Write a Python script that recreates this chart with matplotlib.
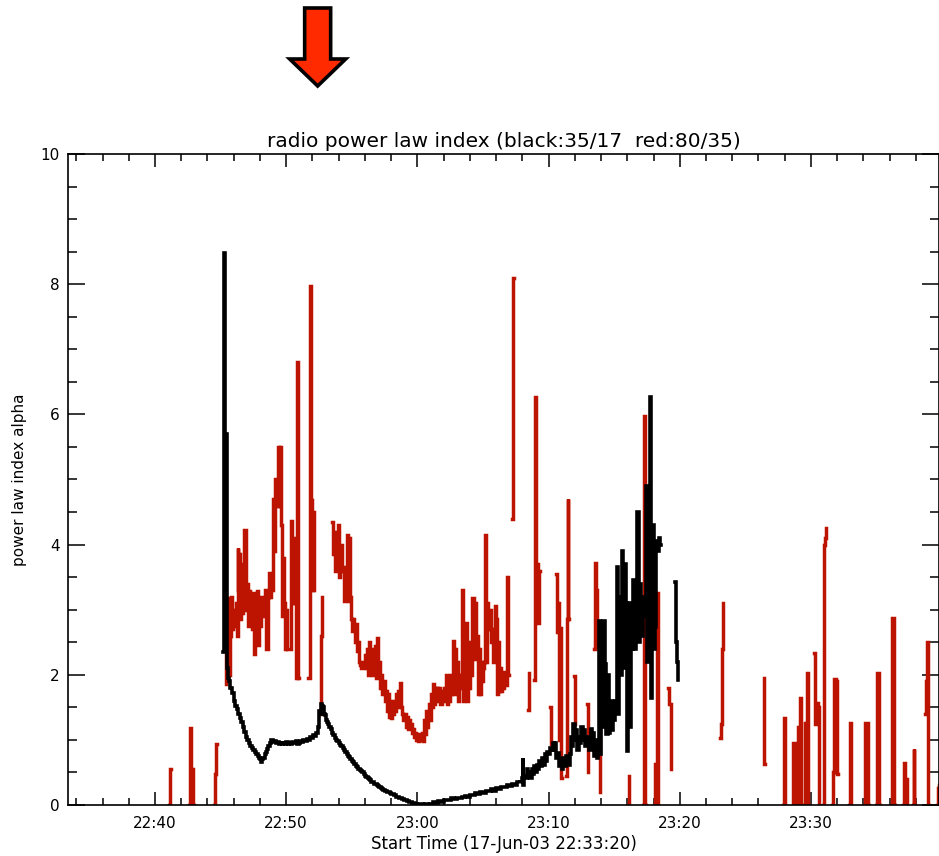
import numpy as np
import matplotlib
matplotlib.use("Agg")
import matplotlib.pyplot as plt
from matplotlib.patches import Polygon
from matplotlib.transforms import IdentityTransform
from matplotlib.ticker import MultipleLocator, FuncFormatter

nan = np.nan

# time in minutes after 22:00 UT, value = power law index alpha
black_pts = [
    (45.20, 2.35), (45.25, 8.48), (45.32, 2.40), (45.40, 5.70), (45.50, 2.10), (45.58, 1.95),
    (45.65, 1.90), (45.75, 1.80), (45.88, 1.72), (46.00, 1.60), (46.11, 1.52), (46.22, 1.47),
    (46.34, 1.40), (46.45, 1.33), (46.56, 1.27), (46.68, 1.20), (46.79, 1.12), (46.90, 1.05),
    (47.02, 1.00), (47.14, 0.95), (47.25, 0.90), (47.36, 0.88), (47.48, 0.84), (47.60, 0.82),
    (47.71, 0.78), (47.82, 0.76), (47.94, 0.72), (48.02, 0.70), (48.09, 0.66), (48.16, 0.70),
    (48.24, 0.72), (48.35, 0.78), (48.47, 0.82), (48.55, 0.86), (48.63, 0.90), (48.74, 0.95),
    (48.85, 1.00), (48.96, 0.97), (49.08, 0.99), (49.20, 0.96), (49.31, 0.97), (49.42, 0.94),
    (49.54, 0.96), (49.66, 0.93), (49.77, 0.96), (49.88, 0.94), (50.00, 0.97), (50.12, 0.93),
    (50.24, 0.96), (50.36, 0.94), (50.48, 0.97), (50.60, 0.95), (50.72, 0.98), (50.84, 0.94),
    (50.96, 0.96), (51.08, 0.99), (51.20, 0.97), (51.32, 1.00), (51.44, 0.98), (51.56, 1.02),
    (51.68, 1.00), (51.80, 1.05), (51.92, 1.03), (52.04, 1.08), (52.16, 1.06), (52.28, 1.10),
    (52.40, 1.20), (52.50, 1.45), (52.58, 1.40), (52.66, 1.55), (52.74, 1.52), (52.82, 1.50),
    (52.90, 1.40), (52.98, 1.38), (53.06, 1.30), (53.14, 1.28), (53.22, 1.24), (53.30, 1.20),
    (53.40, 1.16), (53.50, 1.10), (53.60, 1.08), (53.70, 1.03), (53.80, 1.00), (53.90, 0.98),
    (54.00, 0.95), (54.10, 0.92), (54.20, 0.90), (54.30, 0.87), (54.40, 0.84), (54.50, 0.82),
    (54.60, 0.78), (54.70, 0.76), (54.80, 0.74), (54.90, 0.70), (55.00, 0.68), (55.10, 0.66),
    (55.20, 0.63), (55.30, 0.60), (55.40, 0.58), (55.50, 0.56), (55.60, 0.54), (55.70, 0.52),
    (55.80, 0.50), (55.90, 0.47), (56.00, 0.45), (56.10, 0.43), (56.20, 0.42), (56.30, 0.40),
    (56.40, 0.38), (56.50, 0.36), (56.60, 0.35), (56.70, 0.33), (56.80, 0.32), (56.90, 0.30),
    (57.00, 0.29), (57.10, 0.28), (57.20, 0.26), (57.30, 0.25), (57.40, 0.23), (57.50, 0.22),
    (57.60, 0.22), (57.70, 0.20), (57.80, 0.20), (57.90, 0.18), (58.00, 0.17), (58.20, 0.15),
    (58.40, 0.13), (58.60, 0.11), (58.80, 0.09), (59.00, 0.07), (59.20, 0.06), (59.40, 0.04),
    (59.60, 0.03), (59.80, 0.02), (60.00, 0.00), (60.20, 0.01), (60.40, 0.00), (60.60, 0.02),
    (60.80, 0.00), (61.00, 0.02), (61.20, 0.04), (61.40, 0.03), (61.60, 0.06), (61.80, 0.05),
    (62.00, 0.07), (62.20, 0.08), (62.40, 0.07), (62.60, 0.10), (62.80, 0.09), (63.00, 0.11),
    (63.20, 0.10), (63.40, 0.13), (63.60, 0.14), (63.80, 0.13), (64.00, 0.16), (64.20, 0.15),
    (64.40, 0.18), (64.60, 0.17), (64.80, 0.20), (65.00, 0.19), (65.20, 0.22), (65.40, 0.21),
    (65.60, 0.24), (65.80, 0.22), (66.00, 0.26), (66.20, 0.25), (66.40, 0.28), (66.60, 0.27),
    (66.80, 0.30), (67.00, 0.29), (67.20, 0.33), (67.40, 0.31), (67.60, 0.36), (67.80, 0.34),
    (67.86, 0.35), (67.95, 0.42), (68.02, 0.72), (68.08, 0.30), (68.16, 0.45), (68.24, 0.42),
    (68.32, 0.55), (68.40, 0.45), (68.50, 0.50), (68.60, 0.42), (68.70, 0.55), (68.80, 0.48),
    (68.90, 0.60), (69.00, 0.50), (69.10, 0.62), (69.20, 0.55), (69.30, 0.68), (69.40, 0.60),
    (69.50, 0.72), (69.60, 0.62), (69.70, 0.78), (69.80, 0.68), (69.90, 0.82), (70.00, 0.78),
    (70.10, 0.88), (70.20, 0.85), (70.30, 0.95), (70.40, 0.85), (70.50, 0.95), (70.60, 0.72),
    (70.70, 0.80), (70.80, 0.60), (70.90, 0.70), (71.00, 0.55), (71.10, 0.72), (71.20, 0.60),
    (71.30, 0.75), (71.45, 0.62), (71.60, 0.78), (71.70, 1.05), (71.80, 0.90), (71.90, 1.25),
    (72.00, 1.00), (72.10, 1.15), (72.20, 0.85), (72.30, 1.05), (72.40, 0.95), (72.50, 1.20),
    (72.60, 1.00), (72.70, 1.15), (72.80, 0.90), (72.90, 1.00), (73.00, 1.05), (73.10, 0.85),
    (73.20, 1.17), (73.30, 0.90), (73.40, 1.10), (73.50, 0.75), (73.60, 1.00), (73.70, 0.72),
    (73.74, 0.85), (73.82, 2.83), (73.90, 0.78), (73.98, 2.50), (74.06, 1.20), (74.14, 2.83),
    (74.30, 2.17), (74.40, 1.09), (74.50, 2.00), (74.60, 1.10), (74.70, 1.60), (74.80, 1.15),
    (74.90, 1.50), (75.00, 1.30), (75.10, 1.60), (75.22, 3.65), (75.30, 1.40), (75.40, 3.20),
    (75.50, 2.00), (75.60, 3.90), (75.70, 2.10), (75.80, 3.70), (75.90, 3.10), (76.00, 0.83),
    (76.08, 3.10), (76.18, 1.20), (76.28, 3.00), (76.36, 2.40), (76.46, 3.45), (76.56, 2.40),
    (76.66, 3.30), (76.76, 4.50), (76.86, 2.50), (76.96, 3.40), (77.06, 2.60), (77.16, 3.20),
    (77.30, 2.90), (77.42, 4.90), (77.52, 2.20), (77.62, 3.30), (77.72, 6.26), (77.80, 1.65),
    (77.90, 4.30), (78.00, 2.40), (78.10, 2.74), (78.20, 4.05), (78.30, 3.90), (78.40, 4.10),
    (78.50, 4.00), (78.55, nan),
    (79.60, 3.42), (79.70, 2.50), (79.78, 2.20), (79.85, 1.92), (79.90, nan),
]

red_pts = [
    (41.10, 0.00), (41.15, 0.55), (41.20, nan),
    (42.62, 0.00), (42.67, 1.18), (42.75, 0.30), (42.85, 0.55), (42.92, 0.00), (42.95, nan),
    (44.50, 0.00), (44.56, 0.48), (44.64, 0.94), (44.70, nan),
    (45.38, 1.86), (45.44, 2.70), (45.50, 1.90), (45.56, 3.18), (45.62, 2.00), (45.68, 3.20),
    (45.75, 2.60), (45.82, 3.20), (45.90, 2.70), (45.98, 3.00), (46.06, 2.75), (46.14, 3.10),
    (46.22, 2.60), (46.30, 3.95), (46.36, 3.30), (46.42, 3.85), (46.50, 2.86), (46.58, 3.70),
    (46.66, 2.95), (46.74, 3.60), (46.82, 4.23), (46.90, 3.00), (46.98, 3.40), (47.06, 2.75),
    (47.14, 3.28), (47.22, 2.90), (47.30, 3.10), (47.38, 2.70), (47.46, 3.25), (47.54, 2.32),
    (47.62, 3.20), (47.70, 2.50), (47.78, 3.28), (47.86, 2.46), (47.94, 3.10), (48.02, 2.75),
    (48.10, 3.20), (48.18, 2.90), (48.30, 2.90), (48.40, 3.30), (48.50, 2.40), (48.60, 3.20),
    (48.70, 3.57), (48.78, 3.20), (48.86, 3.50), (48.94, 3.30), (49.02, 4.70), (49.10, 3.90),
    (49.18, 5.00), (49.26, 4.60), (49.34, 5.50), (49.42, 4.60), (49.50, 5.50), (49.58, 4.30),
    (49.66, 2.90), (49.74, 3.80), (49.82, 3.10), (49.90, 2.40), (49.98, 3.00), (50.06, 2.40),
    (50.35, 4.37), (50.45, 3.10), (50.55, 4.10), (50.65, 3.10), (50.75, 1.95), (50.85, 6.80),
    (50.93, 1.95), (50.97, nan),
    (51.70, 1.95), (51.78, 7.98), (51.86, 4.68), (51.94, 3.30), (52.02, 4.50), (52.10, 3.30),
    (52.14, nan),
    (52.55, 1.40), (52.62, 2.60), (52.70, 3.20), (52.74, nan),
    (53.50, 4.34), (53.58, 3.86), (53.66, 4.20), (53.74, 3.60), (53.82, 4.10), (53.90, 3.70),
    (53.98, 4.30), (54.06, 3.50), (54.14, 4.00), (54.22, 3.60), (54.30, 3.65), (54.38, 3.14),
    (54.46, 3.50), (54.54, 3.20), (54.62, 4.14), (54.70, 3.14), (54.78, 4.10), (54.86, 3.20),
    (54.94, 2.86), (55.02, 2.68), (55.10, 2.86), (55.18, 2.75), (55.26, 2.50), (55.34, 2.78),
    (55.42, 2.37), (55.50, 2.50), (55.58, 2.20), (55.66, 2.15), (55.74, 2.10), (55.82, 2.20),
    (55.90, 2.15), (55.98, 2.30), (56.06, 2.10), (56.14, 2.40), (56.22, 2.00), (56.30, 2.50),
    (56.38, 2.10), (56.46, 2.30), (56.54, 2.00), (56.62, 2.40), (56.70, 2.10), (56.78, 2.45),
    (56.86, 1.95), (56.94, 2.56), (57.02, 2.00), (57.10, 2.20), (57.18, 1.80), (57.26, 2.00),
    (57.34, 1.70), (57.42, 1.90), (57.50, 1.60), (57.58, 1.75), (57.66, 1.45), (57.74, 1.70),
    (57.82, 1.35), (57.90, 1.60), (57.98, 1.34), (58.06, 1.55), (58.14, 1.40), (58.22, 1.60),
    (58.30, 1.45), (58.38, 1.70), (58.46, 1.50), (58.54, 1.75), (58.62, 1.60), (58.70, 1.88),
    (58.78, 1.50), (58.86, 1.40), (58.94, 1.30), (59.02, 1.40), (59.10, 1.20), (59.18, 1.35),
    (59.26, 1.17), (59.34, 1.30), (59.42, 1.20), (59.50, 1.25), (59.58, 1.10), (59.66, 1.17),
    (59.74, 1.05), (59.82, 1.10), (59.90, 1.00), (60.00, 1.05), (60.08, 0.98), (60.16, 1.09),
    (60.24, 1.00), (60.32, 1.10), (60.40, 0.98), (60.48, 1.30), (60.56, 1.09), (60.64, 1.45),
    (60.72, 1.20), (60.80, 1.40), (60.88, 1.55), (60.96, 1.30), (61.04, 1.70), (61.12, 1.50),
    (61.20, 1.86), (61.28, 1.55), (61.36, 1.80), (61.44, 1.60), (61.52, 1.80), (61.60, 1.65),
    (61.68, 1.80), (61.76, 1.55), (61.84, 1.75), (61.92, 1.60), (62.00, 1.80), (62.08, 1.70),
    (62.16, 2.00), (62.24, 1.55), (62.32, 1.90), (62.40, 1.60), (62.48, 2.00), (62.56, 1.70),
    (62.64, 1.85), (62.72, 2.52), (62.80, 1.70), (62.88, 2.40), (62.96, 1.75), (63.04, 2.20),
    (63.12, 1.60), (63.20, 2.00), (63.28, 1.80), (63.40, 3.30), (63.48, 1.60), (63.56, 2.20),
    (63.64, 1.70), (63.72, 2.80), (63.80, 1.60), (63.88, 2.50), (63.96, 1.80), (64.04, 2.30),
    (64.12, 2.00), (64.20, 3.18), (64.28, 2.25), (64.36, 3.10), (64.44, 2.40), (64.52, 2.60),
    (64.60, 1.70), (64.68, 2.40), (64.76, 1.70), (64.84, 2.20), (64.92, 1.90), (65.00, 2.10),
    (65.10, 2.20), (65.18, 4.15), (65.26, 2.20), (65.34, 3.10), (65.42, 2.70), (65.50, 3.00),
    (65.58, 2.50), (65.66, 2.70), (65.74, 2.20), (65.82, 2.50), (65.90, 3.05), (65.98, 2.85),
    (66.06, 1.70), (66.14, 2.50), (66.22, 1.75), (66.30, 2.10), (66.38, 1.75), (66.46, 2.00),
    (66.54, 1.80), (66.62, 2.05), (66.70, 1.85), (66.80, 3.50), (66.88, 2.30), (66.94, 2.00),
    (66.98, nan),
    (67.25, 4.40), (67.30, 8.10), (67.34, nan),
    (68.45, 1.46), (68.50, 2.03), (68.54, nan),
    (68.90, 1.92), (68.95, 6.26), (69.05, 3.70), (69.20, 2.80), (69.30, 3.60), (69.34, nan),
    (70.10, 1.50), (70.16, 0.94), (70.20, nan),
    (70.60, 3.55), (70.66, 2.66), (70.72, 3.10), (70.80, 1.00), (70.88, 2.72), (70.95, 0.42),
    (70.99, nan),
    (71.30, 0.45), (71.38, 2.85), (71.45, 4.70), (71.50, 2.85), (71.54, nan),
    (71.92, 1.98), (72.00, 1.25), (72.04, nan),
    (72.92, 1.55), (73.00, 0.50), (73.04, nan),
    (73.45, 2.40), (73.52, 3.72), (73.62, 3.30), (73.72, 2.42), (73.82, 2.40), (73.90, 0.20),
    (73.94, nan),
    (76.08, 0.00), (76.12, 0.45), (76.16, nan),
    (77.22, 0.00), (77.30, 5.98), (77.36, 0.00), (77.40, nan),
    (78.00, 0.00), (78.08, 0.63), (78.18, 0.00), (78.26, 3.25), (78.32, 0.00), (78.36, nan),
    (79.10, 1.80), (79.20, 1.55), (79.30, 0.55), (79.34, nan),
    (83.10, 1.03), (83.15, 1.25), (83.20, 2.40), (83.28, 3.10), (83.32, nan),
    (86.40, 1.95), (86.45, 0.63), (86.49, nan),
    (87.90, 0.00), (87.95, 1.34), (88.00, 0.00), (88.04, nan),
    (88.60, 0.00), (88.65, 0.95), (88.78, 0.30), (88.85, 0.00), (89.00, 1.20), (89.08, 0.10),
    (89.16, 1.65), (89.22, 0.00), (89.26, nan),
    (89.50, 0.00), (89.54, 1.26), (89.62, 0.00), (89.72, 2.03), (89.80, 0.00), (89.84, nan),
    (90.20, 2.34), (90.28, 1.25), (90.38, 1.57), (90.55, 1.50), (90.60, 0.00), (90.64, nan),
    (90.90, 0.00), (90.96, 4.00), (91.05, 4.10), (91.12, 4.25), (91.16, nan),
    (91.60, 0.00), (91.66, 0.50), (91.76, 1.94), (91.90, 1.90), (92.00, 0.48), (92.04, nan),
    (92.92, 0.00), (92.98, 1.26), (93.05, 0.00), (93.08, nan),
    (94.05, 0.00), (94.12, 1.26), (94.28, 1.26), (94.35, 0.00), (94.39, nan),
    (94.96, 0.00), (95.04, 2.03), (95.16, 2.00), (95.22, 0.00), (95.26, nan),
    (96.10, 0.00), (96.16, 2.88), (96.30, 2.85), (96.36, 0.00), (96.40, nan),
    (97.00, 0.00), (97.06, 0.65), (97.18, 0.40), (97.30, 0.00), (97.34, nan),
    (97.78, 0.00), (97.82, 0.86), (97.88, 0.00), (97.92, nan),
    (98.70, 1.40), (98.78, 1.90), (98.86, 2.50), (98.92, 0.00), (98.96, nan),
    (99.62, 0.00), (99.66, 0.26), (99.76, 0.30),
]

title = "radio power law index (black:35/17  red:80/35)"
xlabel = "Start Time (17-Jun-03 22:33:20)"
ylabel = "power law index alpha"
t_start, t_end = 33.37, 99.76
arrow_time = 52.4

black_t = [p[0] for p in black_pts]
black_v = [p[1] for p in black_pts]
red_t = [p[0] for p in red_pts]
red_v = [p[1] for p in red_pts]

plt.rcParams['font.family'] = ['DejaVu Sans']
fig = plt.figure(figsize=(9.39, 8.56), dpi=100)
ax = fig.add_axes([68 / 939, 51 / 856, 871 / 939, 651 / 856])

ax.plot(red_t, red_v, color='#bc1400', lw=2.5, drawstyle='steps-post', solid_joinstyle='miter')
ax.plot(black_t, black_v, color='black', lw=2.6, drawstyle='steps-post', solid_joinstyle='miter')

ax.set_xlim(t_start, t_end)
ax.set_ylim(0, 10)
ax.xaxis.set_major_locator(MultipleLocator(10))
ax.xaxis.set_minor_locator(MultipleLocator(2))
ax.yaxis.set_major_locator(MultipleLocator(2))
ax.yaxis.set_minor_locator(MultipleLocator(0.5))
ax.xaxis.set_major_formatter(FuncFormatter(
    lambda m, pos: "%02d:%02d" % ((22 + int(round(m)) // 60) % 24, int(round(m)) % 60)))
ax.yaxis.set_major_formatter(FuncFormatter(lambda v, pos: "%d" % v))

ax.tick_params(axis='both', which='both', direction='in', top=True, right=True,
               width=1.1, color='black', labelsize=11)
ax.tick_params(axis='x', which='major', length=9.4, pad=8)
ax.tick_params(axis='x', which='minor', length=4.7)
ax.tick_params(axis='y', which='major', length=12.5, pad=6)
ax.tick_params(axis='y', which='minor', length=6.3)
for s in ax.spines.values():
    s.set_linewidth(1.2)

ax.set_title(title, fontsize=14.5, pad=5)
ax.set_xlabel(xlabel, fontsize=12, labelpad=3)
ax.set_ylabel(ylabel, fontsize=11, labelpad=10)

# red arrow above the plot pointing at the time of interest
tip_x = ax.transData.transform((arrow_time, 0))[0]
tip_y = 856 - 86
shape = [(0, 0), (28, 27), (13, 27), (13, 78), (-13, 78), (-13, 27), (-28, 27)]
verts = [(tip_x + dx, tip_y + dy) for dx, dy in shape]
fig.add_artist(Polygon(verts, closed=True, facecolor='#ff2a00', edgecolor='black',
                       lw=2.6, joinstyle='miter', transform=IdentityTransform()))

fig.savefig('out.png', dpi=100)
